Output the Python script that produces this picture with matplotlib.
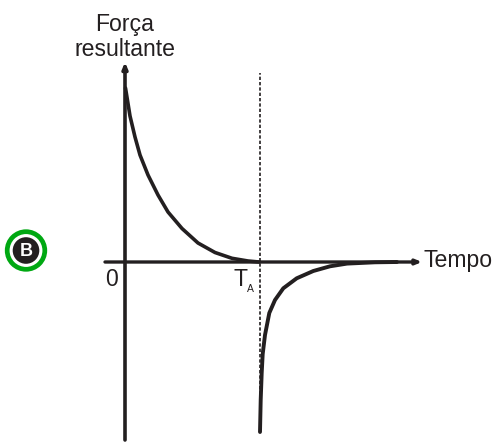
import matplotlib
matplotlib.use('Agg')
import matplotlib.pyplot as plt
from matplotlib.patches import Circle

plt.rcParams['font.family'] = ['Liberation Sans', 'DejaVu Sans']

# curve values, in picture pixels from the origin
decay_t = [0.5, 5, 10, 15, 23, 33, 43, 57, 73, 90, 107, 123, 134]
decay_f = [174, 146, 125, 107, 87, 67, 50, 33.5, 19, 9.5, 3.7, 1, 0]
rise_t = [135, 135.7, 136.7, 137.7, 140, 144.3, 150, 158.3, 171.7, 188.3, 205, 222, 250, 272]
rise_f = [-170, -138, -111, -92, -73, -51, -38, -26.3, -16.3, -9, -4.3, -1.6, -0.3, 0]

t_marker = 135
guide_top = 189
guide_bottom = -170
color = '#231f20'

fig = plt.figure(figsize=(4.96, 4.44), dpi=100)
ax = fig.add_axes([0, 0, 1, 1])
ax.set_xlim(-125, 371)
ax.set_ylim(-182, 262)
ax.axis('off')

# axes with arrows
ax.annotate('', xy=(297, 0), xytext=(-20, 0),
            arrowprops=dict(arrowstyle='-|>,head_width=0.14,head_length=0.34', color=color, lw=2.4,
                            shrinkA=0, shrinkB=0))
ax.annotate('', xy=(0, 200), xytext=(0, -178),
            arrowprops=dict(arrowstyle='-|>,head_width=0.14,head_length=0.34', color=color, lw=2.6,
                            shrinkA=0, shrinkB=0))

# dashed guide at T_A
ax.plot([t_marker, t_marker], [guide_bottom, guide_top], color=color, lw=1.2, dashes=(2, 1.2))

ax.plot(decay_t, decay_f, color=color, lw=2.6, solid_capstyle='round', solid_joinstyle='round')
ax.plot(rise_t, rise_f, color=color, lw=2.8, solid_capstyle='round', solid_joinstyle='round')

# labels
ax.text(0, 238, 'Força', ha='center', va='center', fontsize=16.6, color=color)
ax.text(0.5, 212, 'resultante', ha='center', va='center', fontsize=16.6, color=color)
ax.text(299, 2, 'Tempo', ha='left', va='center', fontsize=16.6, color=color)
ax.text(-13, -17, '0', ha='center', va='center', fontsize=16.6, color=color)
ax.text(115, -17, 'T', ha='center', va='center', fontsize=16.6, color=color)
ax.text(125, -27, 'A', ha='center', va='center', fontsize=7.5, color=color)

# option badge
ax.add_patch(Circle((-99, 11.5), 18.8, facecolor='white', edgecolor='#00a812', lw=3.4))
ax.add_patch(Circle((-99, 11.5), 13.3, facecolor=color, edgecolor='none'))
ax.text(-99, 11, 'B', ha='center', va='center', fontsize=13, fontweight='bold', color='white')

fig.savefig('out.png', dpi=100)
